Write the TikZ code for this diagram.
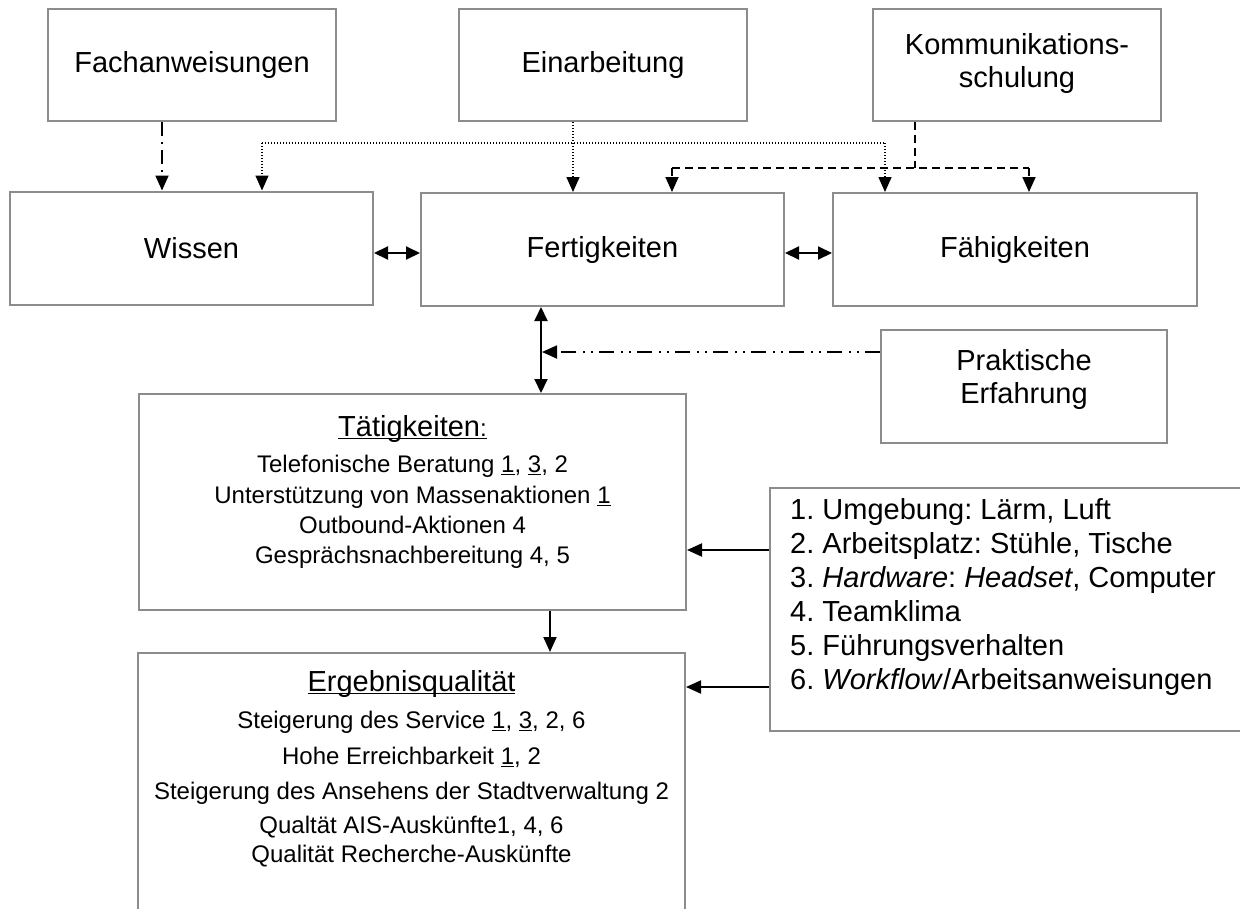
\documentclass[tikz,border=0pt]{standalone}
\usepackage{fontspec}
\setmainfont{Liberation Sans}
\usetikzlibrary{arrows.meta}

\definecolor{boxgray}{HTML}{8C8C8C}

% underline drawn as a rule of fixed thickness
\newcommand{\ulbar}[1]{\setbox0\hbox{#1}\rlap{\rule[-3.2pt]{\wd0}{1.7pt}}\box0}

\begin{document}
\frenchspacing
\begin{tikzpicture}[x=1pt,y=-1pt,
  box/.style={draw=boxgray, line width=2pt, inner sep=0pt},
  big/.style={font=\fontsize{29}{33}\selectfont, align=center},
  body/.style={font=\fontsize{24}{30}\selectfont, inner sep=0pt},
  legtext/.style={font=\fontsize{29}{34}\selectfont, inner sep=0pt, anchor=base west},
  tip/.style={-{Triangle[width=13pt,length=15pt]}},
  tips/.style={{Triangle[width=13pt,length=14pt]}-{Triangle[width=13pt,length=14pt]}},
  solidline/.style={line width=2pt, black},
  dotline/.style={line width=1.5pt, dash pattern=on 1.2pt off 1.8pt},
  dashline/.style={line width=1.8pt, dash pattern=on 8pt off 5pt},
  dashdot/.style={line width=1.8pt, dash pattern=on 14pt off 6pt on 2pt off 6pt},
  dashdotdot/.style={line width=1.8pt, dash pattern=on 15pt off 6pt on 2pt off 6pt on 2pt off 7pt},
]
\useasboundingbox (0,0) rectangle (1240,908);
\clip (0,0) rectangle (1240,908);
\fill[white] (0,0) rectangle (1240,908);

% upper row: training inputs
\node[box, big, minimum width=288pt, minimum height=112pt] (fach) at (192,65) {Fachanweisungen};
\node[box, big, minimum width=288pt, minimum height=112pt] (ein) at (603,65) {Einarbeitung};
\node[box, minimum width=288pt, minimum height=112pt] (kom) at (1017,65) {};
\node[big] (komtext) at (1017,63) {Kommunikations-\\schulung};

% competence row
\node[box, big, minimum width=363pt, minimum height=113pt] (wis) at (191.5,248) {Wissen};
\node[box, big, minimum width=363pt, minimum height=113pt] (fert) at (602.5,249.5) {Fertigkeiten};
\node[box, big, minimum width=364pt, minimum height=113pt] (faeh) at (1015,249.5) {Fähigkeiten};

% practical experience
\node[box, minimum width=286pt, minimum height=113pt] (prak) at (1024,386.5) {};
\node[big] (praktext) at (1024,379) {Praktische\\Erfahrung};

% activities
\node[box, minimum width=547pt, minimum height=216pt] (taet) at (412.5,502) {};
\node[body, anchor=base] (ta0) at (412.5,436) {\fontsize{29}{33}\selectfont\ulbar{Tätigkeiten\fontsize{24}{30}\selectfont:}};
\node[body, anchor=base] (ta1) at (412.5,472) {Telefonische Beratung \ulbar{1}, \ulbar{3}, 2};
\node[body, anchor=base] (ta2) at (412.5,503) {Unterstützung von Massenaktionen \ulbar{1}};
\node[body, anchor=base] (ta3) at (412.5,533) {Outbound-Aktionen 4};
\node[body, anchor=base] (ta4) at (412.5,563) {Gesprächsnachbereitung 4, 5};

% result quality (runs past the lower edge)
\node[box, minimum width=547pt, minimum height=320pt] (erg) at (411.5,813) {};
\node[body, anchor=base] (er0) at (411.5,691) {\fontsize{29}{33}\selectfont\ulbar{Ergebnisqualität}};
\node[body, anchor=base] (er1) at (411.5,728) {Steigerung des Service \ulbar{1}, \ulbar{3}, 2, 6};
\node[body, anchor=base] (er2) at (411.5,764) {Hohe Erreichbarkeit \ulbar{1}, 2};
\node[body, anchor=base] (er3) at (411.5,799) {Steigerung des Ansehens der Stadtverwaltung 2};
\node[body, anchor=base] (er4) at (411.5,833) {Qualtät AIS-Auskünfte1, 4, 6};
\node[body, anchor=base] (er5) at (411.5,862) {Qualität Recherche-Auskünfte};

% influencing factors (runs past the right edge)
\node[box, minimum width=500pt, minimum height=243pt] (leg) at (1020,609.5) {};
\node[legtext] (lg1) at (790,519) {1. Umgebung: Lärm, Luft};
\node[legtext] (lg2) at (790,553) {2. Arbeitsplatz: Stühle, Tische};
\node[legtext] (lg3) at (790,587) {3. \textit{Hardware}: \textit{Headset}, Computer};
\node[legtext] (lg4) at (790,621) {4. Teamklima};
\node[legtext] (lg5) at (790,655) {5. Führungsverhalten};
\node[legtext] (lg6) at (790,689) {6. \textit{Workflow}/Arbeitsanweisungen};

% junction points of the connectors
\coordinate (fachX) at (162,143);
\coordinate (dotL) at (262,143);
\coordinate (dotR) at (885,143);
\coordinate (einX) at (573,143);
\coordinate (dashL) at (672,168);
\coordinate (dashR) at (1029,168);
\coordinate (komX) at (915,168);
\coordinate (rowY) at (0,253);
\coordinate (vX) at (541,352);
\coordinate (teX) at (550,630);
\coordinate (legA) at (0,550);
\coordinate (legB) at (0,687);

% Fachanweisungen -> Wissen
\draw[dashdot, tip] (fach.south -| fachX) -- (wis.north -| fachX);

% Einarbeitung -> Wissen, Fertigkeiten, Fähigkeiten
\draw[dotline, tip] (ein.south -| einX) -- (fert.north -| einX);
\draw[dotline] (dotL) -- (dotR);
\draw[dotline, tip] (dotL) -- (wis.north -| dotL);
\draw[dotline, tip] (dotR) -- (faeh.north -| dotR);

% Kommunikationsschulung -> Fertigkeiten, Fähigkeiten
\draw[dashline] (kom.south -| komX) -- (komX);
\draw[dashline] (dashL) -- (dashR);
\draw[dashline, tip] (dashL) -- (fert.north -| dashL);
\draw[dashline, tip] (dashR) -- (faeh.north -| dashR);

% links between the competences
\draw[solidline, tips] (wis.east |- rowY) -- (fert.west |- rowY);
\draw[solidline, tips] (fert.east |- rowY) -- (faeh.west |- rowY);
\draw[solidline, tips] (fert.south -| vX) -- (taet.north -| vX);

% practical experience feeds the skills/activities link
\draw[dashdotdot, tip] (prak.west |- vX) -- ([xshift=1pt]vX);

% activities -> results, factors -> both
\draw[solidline, tip] (taet.south -| teX) -- (erg.north -| teX);
\draw[solidline, tip] (leg.west |- legA) -- (taet.east |- legA);
\draw[solidline, tip] (leg.west |- legB) -- (erg.east |- legB);
\end{tikzpicture}
\end{document}
